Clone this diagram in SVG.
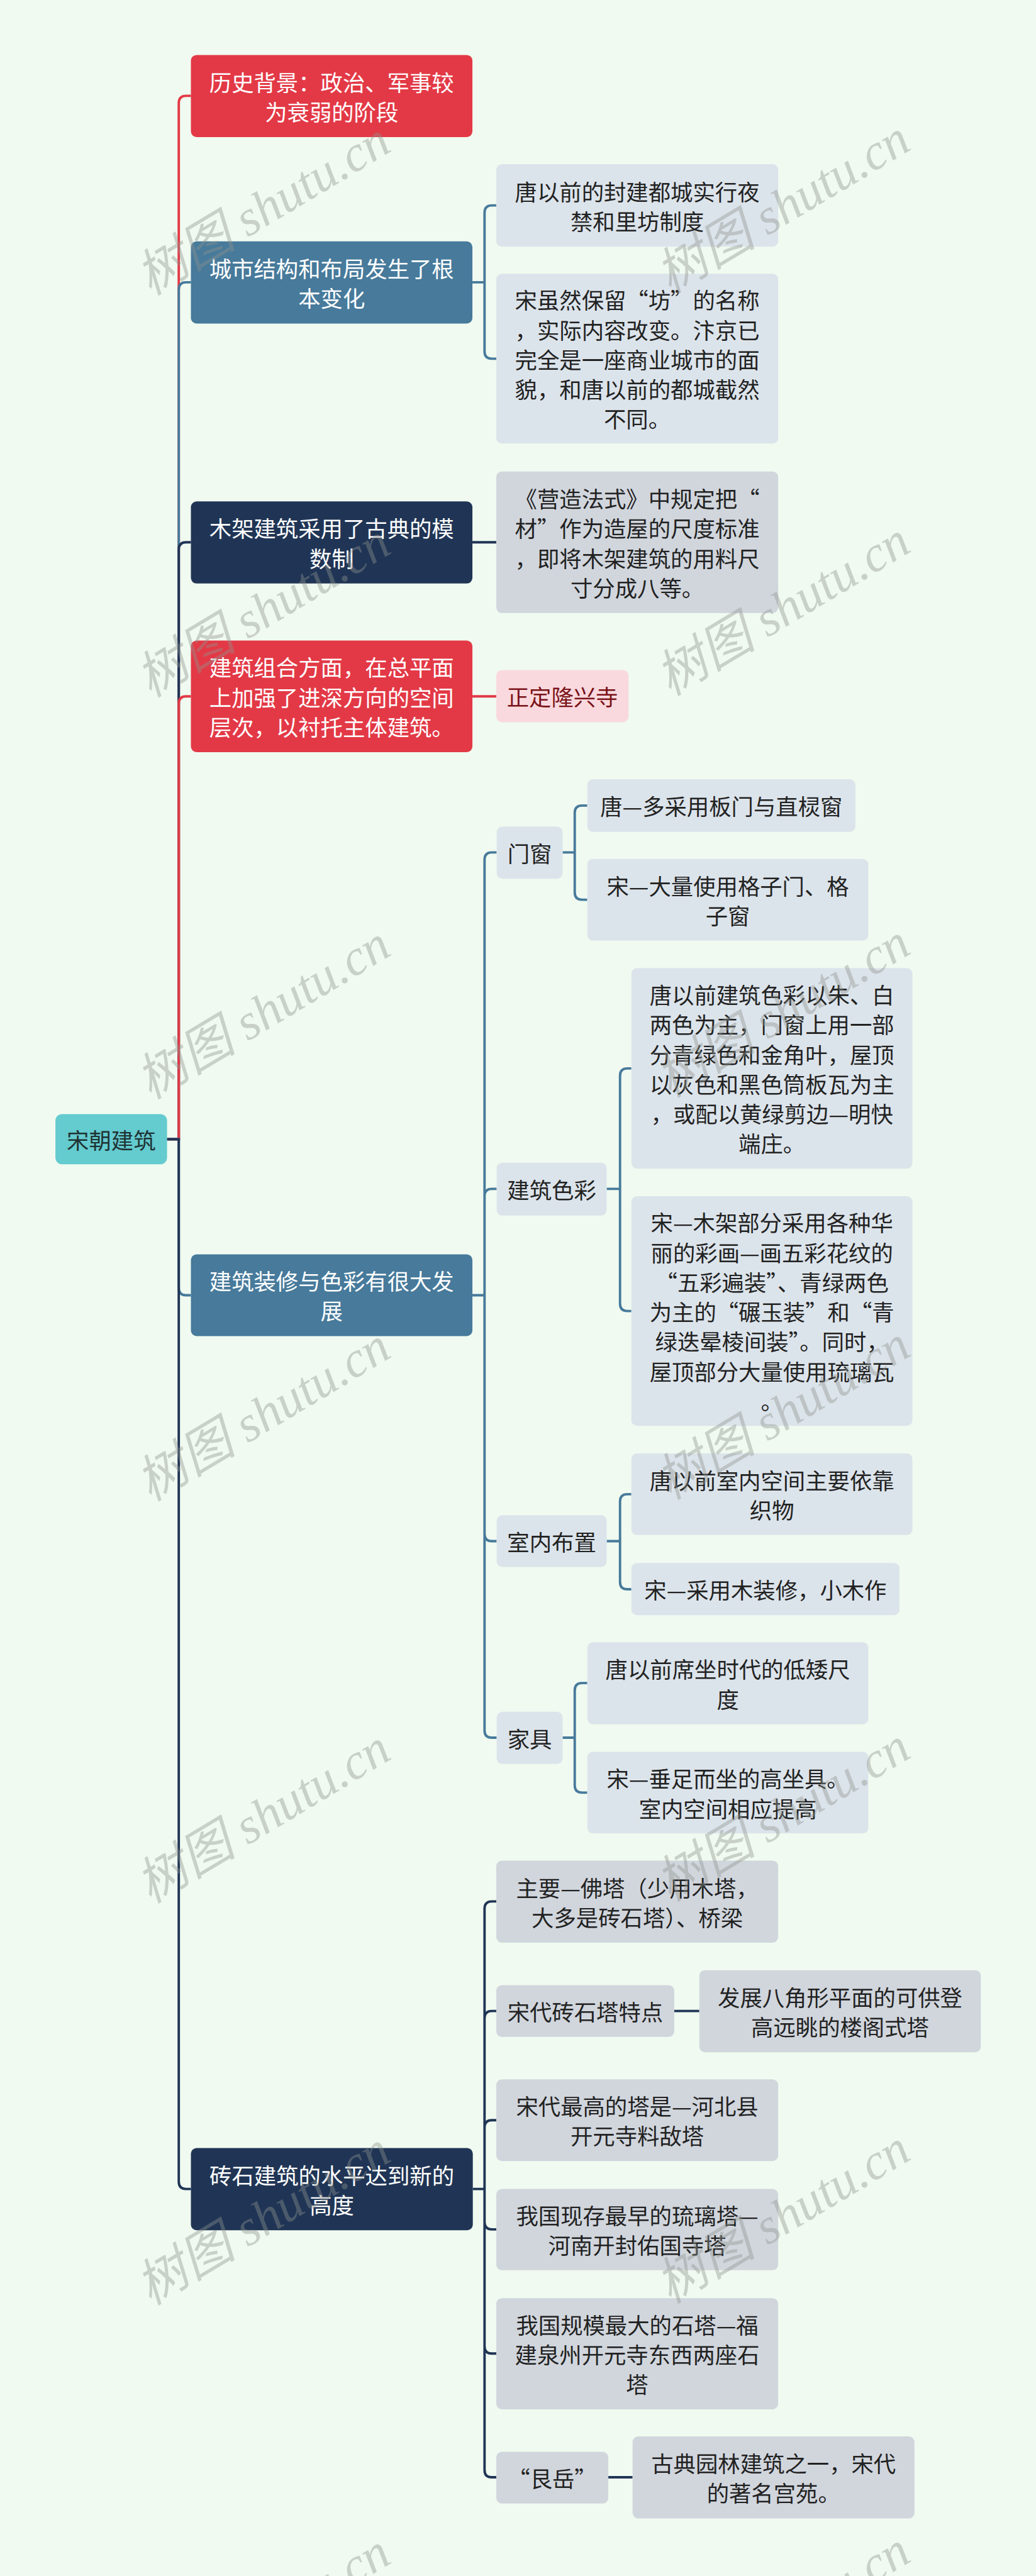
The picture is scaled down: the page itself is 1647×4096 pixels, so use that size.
<svg xmlns="http://www.w3.org/2000/svg" width="1647" height="4096" viewBox="0 0 1647 4096">
<style>
.t{font-family:"Noto Sans CJK SC","Noto Sans",sans-serif;font-size:55px;text-anchor:middle;dominant-baseline:central}
.w{fill:#ffffff}
.d{fill:#222222}
.pk{fill:#7A1218}
.red{fill:#E33946}
.stl{fill:#477A9B}
.nav{fill:#203555}
.lb{fill:#DCE4EB}
.gy{fill:#D1D6DD}
.pink{fill:#F9D9DE}
.cr{fill:none;stroke:#E33946;stroke-width:6}
.cs{fill:none;stroke:#477A9B;stroke-width:6}
.cn{fill:none;stroke:#203555;stroke-width:6}
.wm{font-family:"Liberation Serif","Noto Sans CJK SC",serif;font-style:italic;font-size:125px;fill:#8f948f;opacity:0.4;text-anchor:middle;dominant-baseline:central}
</style>
<rect x="0" y="0" width="1647" height="4096" fill="#F0FAF0"/>
<g transform="scale(0.643)">
<g id="connectors">
<path class="cr" d="M413 2817H442V255Q442 237 460 237H472"/>
<path class="cs" d="M413 2817H442V716Q442 698 460 698H472"/>
<path class="cn" d="M413 2817H442V1359Q442 1341 460 1341H472"/>
<path class="cr" d="M413 2817H442V1740Q442 1722 460 1722H472"/>
<path class="cs" d="M413 2817H442V3185Q442 3203 460 3203H472"/>
<path class="cn" d="M413 2817H442V5395Q442 5413 460 5413H472"/>
<path class="cs" d="M1168 698H1198V526Q1198 508 1216 508H1227M1168 698H1198V869Q1198 887 1216 887H1227"/>
<path class="cn" d="M1168 1341H1227"/>
<path class="cr" d="M1168 1722H1227"/>
<path class="cs" d="M1168 3203H1198V2126Q1198 2108 1216 2108H1228M1168 3203H1198V2958Q1198 2940 1216 2940H1228M1168 3203H1198V3793Q1198 3811 1216 3811H1228M1168 3203H1198V4279Q1198 4297 1216 4297H1228"/>
<path class="cs" d="M1391 2108H1421V2010Q1421 1992 1439 1992H1452M1391 2108H1421V2207Q1421 2225 1439 2225H1452"/>
<path class="cs" d="M1500 2940H1533V2660Q1533 2642 1551 2642H1561M1500 2940H1533V3224Q1533 3242 1551 3242H1561"/>
<path class="cs" d="M1500 3811H1533V3713Q1533 3695 1551 3695H1561M1500 3811H1533V3912Q1533 3930 1551 3930H1561"/>
<path class="cs" d="M1391 4297H1421V4180Q1421 4162 1439 4162H1452M1391 4297H1421V4415Q1421 4433 1439 4433H1452"/>
<path class="cn" d="M1169 5413H1198V4720Q1198 4702 1216 4702H1227M1169 5413H1198V4991Q1198 4973 1216 4973H1227M1169 5413H1198V5261Q1198 5243 1216 5243H1227M1169 5413H1198V5495Q1198 5513 1216 5513H1227M1169 5413H1198V5802Q1198 5820 1216 5820H1227M1169 5413H1198V6108Q1198 6126 1216 6126H1227"/>
<path class="cn" d="M1667 4973H1729"/>
<path class="cn" d="M1504 6126H1564"/>
</g>
<g id="root"><rect x="137" y="2755" width="276" height="124" rx="16" fill="#64CBCF"/><text class="t" x="275" y="2817" fill="#1F3333">宋朝建筑</text></g>
<g id="history"><rect class="red" x="472" y="136" width="696" height="203" rx="14"/><text class="t w" x="820" y="201">历史背景：政治、军事较</text><text class="t w" x="820" y="274.5">为衰弱的阶段</text></g>
<g id="city"><rect class="stl" x="472" y="597" width="696" height="203" rx="14"/><text class="t w" x="820" y="661.5">城市结构和布局发生了根</text><text class="t w" x="820" y="735">本变化</text></g>
<g id="city-1"><rect class="lb" x="1227" y="406" width="697" height="204" rx="14"/><text class="t d" x="1575.5" y="471.5">唐以前的封建都城实行夜</text><text class="t d" x="1575.5" y="545">禁和里坊制度</text></g>
<g id="city-2"><rect class="lb" x="1227" y="677" width="697" height="420" rx="14"/><text class="t d" x="1575.5" y="740">宋虽然保留“坊”的名称</text><text class="t d" x="1575.5" y="813.5">，实际内容改变。汴京已</text><text class="t d" x="1575.5" y="887">完全是一座商业城市的面</text><text class="t d" x="1575.5" y="960.5">貌，和唐以前的都城截然</text><text class="t d" x="1575.5" y="1034">不同。</text></g>
<g id="wood"><rect class="nav" x="472" y="1240" width="696" height="203" rx="14"/><text class="t w" x="820" y="1304.75">木架建筑采用了古典的模</text><text class="t w" x="820" y="1378.25">数制</text></g>
<g id="wood-1"><rect class="gy" x="1227" y="1166" width="697" height="350" rx="14"/><text class="t d" x="1575.5" y="1231">《营造法式》中规定把“</text><text class="t d" x="1575.5" y="1304.5">材”作为造屋的尺度标准</text><text class="t d" x="1575.5" y="1378">，即将木架建筑的用料尺</text><text class="t d" x="1575.5" y="1451.5">寸分成八等。</text></g>
<g id="combo"><rect class="red" x="472" y="1584" width="696" height="276" rx="14"/><text class="t w" x="820" y="1648.5">建筑组合方面，在总平面</text><text class="t w" x="820" y="1722">上加强了进深方向的空间</text><text class="t w" x="820" y="1795.5">层次，以衬托主体建筑。</text></g>
<g id="combo-1"><rect class="pink" x="1227" y="1657" width="327" height="129" rx="14"/><text class="t pk" x="1390.5" y="1721.5">正定隆兴寺</text></g>
<g id="deco"><rect class="stl" x="472" y="3102" width="696" height="202" rx="14"/><text class="t w" x="820" y="3166">建筑装修与色彩有很大发</text><text class="t w" x="820" y="3239.5">展</text></g>
<g id="door"><rect class="lb" x="1228" y="2044" width="163" height="129" rx="14"/><text class="t d" x="1309.5" y="2108.5">门窗</text></g>
<g id="door-1"><rect class="lb" x="1452" y="1927" width="663" height="130" rx="14"/><text class="t d" x="1783.5" y="1992">唐—多采用板门与直棂窗</text></g>
<g id="door-2"><rect class="lb" x="1452" y="2124" width="695" height="202" rx="14"/><text class="t d" x="1799.5" y="2188.25">宋—大量使用格子门、格</text><text class="t d" x="1799.5" y="2261.75">子窗</text></g>
<g id="color"><rect class="lb" x="1228" y="2875" width="272" height="131" rx="14"/><text class="t d" x="1364" y="2940.5">建筑色彩</text></g>
<g id="color-1"><rect class="lb" x="1561" y="2394" width="695" height="496" rx="14"/><text class="t d" x="1908.5" y="2458.25">唐以前建筑色彩以朱、白</text><text class="t d" x="1908.5" y="2531.75">两色为主，门窗上用一部</text><text class="t d" x="1908.5" y="2605.25">分青绿色和金角叶，屋顶</text><text class="t d" x="1908.5" y="2678.75">以灰色和黑色筒板瓦为主</text><text class="t d" x="1908.5" y="2752.25">，或配以黄绿剪边—明快</text><text class="t d" x="1908.5" y="2825.75">端庄。</text></g>
<g id="color-2"><rect class="lb" x="1561" y="2958" width="695" height="568" rx="14"/><text class="t d" x="1908.5" y="3021.5">宋—木架部分采用各种华</text><text class="t d" x="1908.5" y="3095">丽的彩画—画五彩花纹的</text><text class="t d" x="1908.5" y="3168.5">“五彩遍装”、青绿两色</text><text class="t d" x="1908.5" y="3242">为主的“碾玉装”和“青</text><text class="t d" x="1908.5" y="3315.5">绿迭晕棱间装”。同时，</text><text class="t d" x="1908.5" y="3389">屋顶部分大量使用琉璃瓦</text><text class="t d" x="1908.5" y="3462.5">。</text></g>
<g id="interior"><rect class="lb" x="1228" y="3747" width="272" height="128" rx="14"/><text class="t d" x="1364" y="3811">室内布置</text></g>
<g id="interior-1"><rect class="lb" x="1561" y="3594" width="695" height="202" rx="14"/><text class="t d" x="1908.5" y="3658.25">唐以前室内空间主要依靠</text><text class="t d" x="1908.5" y="3731.75">织物</text></g>
<g id="interior-2"><rect class="lb" x="1561" y="3865" width="663" height="129" rx="14"/><text class="t d" x="1892.5" y="3929.5">宋—采用木装修，小木作</text></g>
<g id="furniture"><rect class="lb" x="1228" y="4233" width="163" height="129" rx="14"/><text class="t d" x="1309.5" y="4297.5">家具</text></g>
<g id="furniture-1"><rect class="lb" x="1452" y="4061" width="695" height="203" rx="14"/><text class="t d" x="1799.5" y="4125.75">唐以前席坐时代的低矮尺</text><text class="t d" x="1799.5" y="4199.25">度</text></g>
<g id="furniture-2"><rect class="lb" x="1452" y="4332" width="695" height="202" rx="14"/><text class="t d" x="1799.5" y="4396.25">宋—垂足而坐的高坐具。</text><text class="t d" x="1799.5" y="4469.75">室内空间相应提高</text></g>
<g id="brick"><rect class="nav" x="472" y="5312" width="697" height="203" rx="14"/><text class="t w" x="820.5" y="5376.75">砖石建筑的水平达到新的</text><text class="t w" x="820.5" y="5450.25">高度</text></g>
<g id="brick-1"><rect class="gy" x="1227" y="4601" width="697" height="203" rx="14"/><text class="t d" x="1575.5" y="4665.75">主要—佛塔（少用木塔，</text><text class="t d" x="1575.5" y="4739.25">大多是砖石塔）、桥梁</text></g>
<g id="brick-2"><rect class="gy" x="1227" y="4909" width="440" height="128" rx="14"/><text class="t d" x="1447" y="4973">宋代砖石塔特点</text></g>
<g id="brick-2-1"><rect class="gy" x="1729" y="4872" width="696" height="203" rx="14"/><text class="t d" x="2077" y="4936.75">发展八角形平面的可供登</text><text class="t d" x="2077" y="5010.25">高远眺的楼阁式塔</text></g>
<g id="brick-3"><rect class="gy" x="1227" y="5142" width="697" height="202" rx="14"/><text class="t d" x="1575.5" y="5206.25">宋代最高的塔是—河北县</text><text class="t d" x="1575.5" y="5279.75">开元寺料敌塔</text></g>
<g id="brick-4"><rect class="gy" x="1227" y="5413" width="697" height="201" rx="14"/><text class="t d" x="1575.5" y="5476.75">我国现存最早的琉璃塔—</text><text class="t d" x="1575.5" y="5550.25">河南开封佑国寺塔</text></g>
<g id="brick-5"><rect class="gy" x="1227" y="5683" width="697" height="275" rx="14"/><text class="t d" x="1575.5" y="5747">我国规模最大的石塔—福</text><text class="t d" x="1575.5" y="5820.5">建泉州开元寺东西两座石</text><text class="t d" x="1575.5" y="5894">塔</text></g>
<g id="brick-6"><rect class="gy" x="1227" y="6063" width="277" height="128" rx="14"/><text class="t d" x="1365.5" y="6127">“艮岳”</text></g>
<g id="brick-6-1"><rect class="gy" x="1564" y="6025" width="697" height="203" rx="14"/><text class="t d" x="1912.5" y="6089.75">古典园林建筑之一，宋代</text><text class="t d" x="1912.5" y="6163.25">的著名宫苑。</text></g>
<g id="watermarks">
<text class="wm" x="650" y="515" transform="rotate(-31 650 515)">树图 shutu.cn</text>
<text class="wm" x="1935" y="511" transform="rotate(-31 1935 511)">树图 shutu.cn</text>
<text class="wm" x="650" y="1509" transform="rotate(-31 650 1509)">树图 shutu.cn</text>
<text class="wm" x="1935" y="1505" transform="rotate(-31 1935 1505)">树图 shutu.cn</text>
<text class="wm" x="650" y="2503" transform="rotate(-31 650 2503)">树图 shutu.cn</text>
<text class="wm" x="1935" y="2499" transform="rotate(-31 1935 2499)">树图 shutu.cn</text>
<text class="wm" x="650" y="3497" transform="rotate(-31 650 3497)">树图 shutu.cn</text>
<text class="wm" x="1935" y="3493" transform="rotate(-31 1935 3493)">树图 shutu.cn</text>
<text class="wm" x="650" y="4491" transform="rotate(-31 650 4491)">树图 shutu.cn</text>
<text class="wm" x="1935" y="4487" transform="rotate(-31 1935 4487)">树图 shutu.cn</text>
<text class="wm" x="650" y="5485" transform="rotate(-31 650 5485)">树图 shutu.cn</text>
<text class="wm" x="1935" y="5481" transform="rotate(-31 1935 5481)">树图 shutu.cn</text>
<text class="wm" x="650" y="6479" transform="rotate(-31 650 6479)">树图 shutu.cn</text>
<text class="wm" x="1935" y="6475" transform="rotate(-31 1935 6475)">树图 shutu.cn</text>
</g>
</g>
</svg>
